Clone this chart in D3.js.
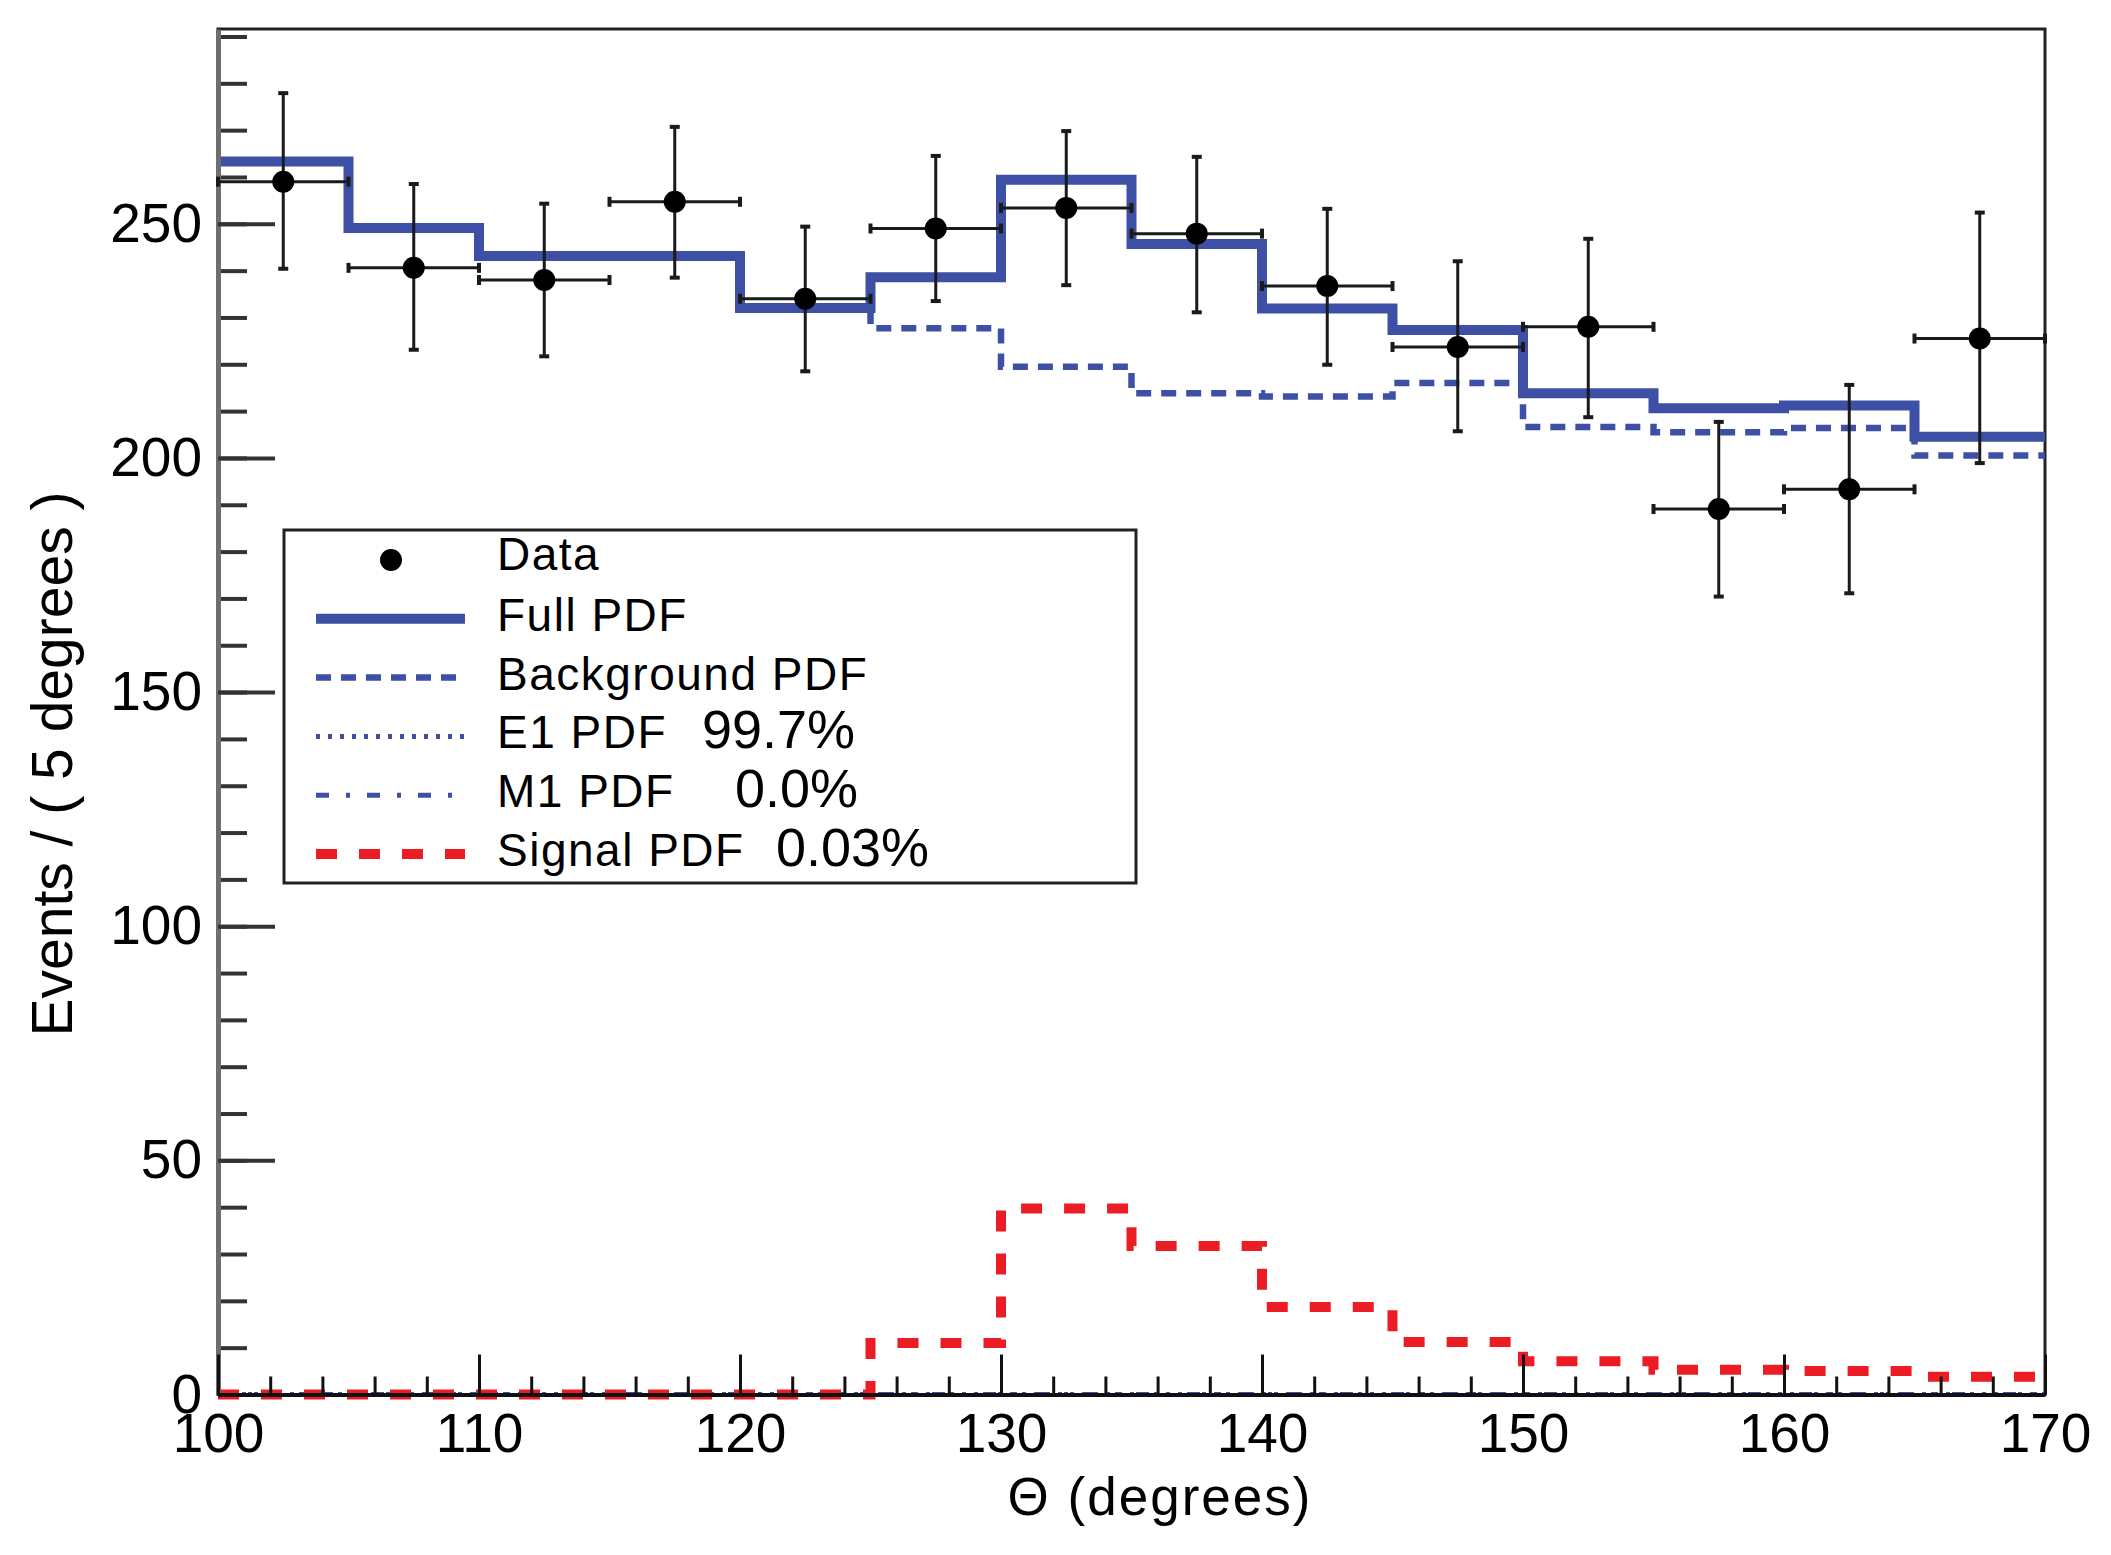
<!DOCTYPE html>
<html>
<head>
<meta charset="utf-8">
<script src="https://cdn.jsdelivr.net/npm/d3@7"></script>
<style>
  body { margin: 0; background: #fff; }
  text { font-family: "Liberation Sans", Arial, Helvetica, sans-serif; }
</style>
</head>
<body>
<svg id="chart" width="2111" height="1555"></svg>
<script>

// bin edges of the 5 degree histogram
var binEdges = [100, 105, 110, 115, 120, 125, 130, 135, 140, 145, 150, 155, 160, 165, 170]

// data points (bin centres) with asymmetric error bar ends
var dataCounts  = [259.0, 240.6, 238.0, 254.7, 234.0, 249.0, 253.4, 247.9, 236.7, 223.7, 228.0, 189.1, 193.3, 225.5]
var dataErrHigh = [277.9, 258.5, 254.3, 270.7, 249.4, 264.5, 269.8, 264.3, 253.2, 242.0, 246.8, 207.7, 215.6, 252.4]
var dataErrLow  = [240.4, 223.1, 221.7, 238.5, 218.5, 233.5, 236.9, 231.1, 219.9, 205.7, 208.7, 170.4, 171.1, 198.9]

// fitted pdfs, one value per bin
var fullPdf       = [263.3, 249.1, 243.1, 243.1, 232.0, 238.6, 259.4, 245.7, 231.9, 227.3, 213.8, 210.6, 211.2, 204.5]
var backgroundPdf = [263.3, 249.1, 243.1, 243.1, 232.0, 227.7, 219.5, 213.8, 213.1, 216.0, 206.6, 205.5, 206.4, 200.5]
var e1Pdf         = [0, 0, 0, 0, 0, 0, 0, 0, 0, 0, 0, 0, 0, 0]
var m1Pdf         = [0, 0, 0, 0, 0, 0, 0, 0, 0, 0, 0, 0, 0, 0]
var signalPdf     = [0, 0, 0, 0, 0, 11.0, 39.7, 31.7, 18.7, 11.2, 7.1, 5.3, 5.0, 3.8]

var xTickLabels = [100, 110, 120, 130, 140, 150, 160, 170]
var yTickLabels = [0, 50, 100, 150, 200, 250]

var legendLabels   = ['Data', 'Full PDF', 'Background PDF', 'E1 PDF', 'M1 PDF', 'Signal PDF']
var legendPercents = ['', '', '', '99.7%', '0.0%', '0.03%']


var svg = d3.select('#chart')

var x = d3.scaleLinear().domain([100, 170]).range([218, 2045])
var y = d3.scaleLinear().domain([0, 291.6]).range([1394.5, 29])

var blue = '#3d50a6', red = '#ec1c24'

var styles = {
  full:       {stroke: blue, width: 10,  dash: null},
  background: {stroke: blue, width: 6.5, dash: '15,10'},
  e1:         {stroke: blue, width: 5,   dash: '4,8'},
  m1:         {stroke: blue, width: 5,   dash: '13,17,4,17'},
  signal:     {stroke: red,  width: 10,  dash: '21,22'},
}

function stepPoints(vals){
  return binEdges.map((e, i) => [e, vals[Math.min(i, vals.length - 1)]])
}

var stepLine = d3.line()
  .x(d => x(d[0]))
  .y(d => y(d[1]))
  .curve(d3.curveStepAfter)


// frame
svg.append('rect')
  .attr('x', x(100)).attr('y', y.range()[1])
  .attr('width', x(170) - x(100)).attr('height', y.range()[0] - y.range()[1])
  .attr('fill', 'none').attr('stroke', '#222').attr('stroke-width', 3)


// pdf curves
var curves = [
  {vals: backgroundPdf, style: styles.background},
  {vals: e1Pdf, style: styles.e1},
  {vals: m1Pdf, style: styles.m1},
  {vals: signalPdf, style: styles.signal},
  {vals: fullPdf, style: styles.full},
]

svg.append('g').selectAll('path')
  .data(curves).join('path')
  .attr('d', d => stepLine(stepPoints(d.vals)))
  .attr('fill', 'none')
  .attr('stroke', d => d.style.stroke)
  .attr('stroke-width', d => d.style.width)
  .attr('stroke-dasharray', d => d.style.dash)


// axes
function styleAxis(g, color, width){
  g.attr('font-family', null).attr('font-size', null)
  g.selectAll('.tick line').attr('stroke', color).attr('stroke-width', width)
  g.selectAll('.tick text').attr('fill', '#000').style('font-size', '55px')
}

var yMinor = svg.append('g').attr('transform', `translate(${x(100)},0)`)
  .call(d3.axisLeft(y).tickValues(d3.range(0, 291, 10)).tickSize(-29).tickSizeOuter(0).tickFormat(''))
yMinor.select('.domain').remove()
styleAxis(yMinor, '#333', 4)

var yAxis = svg.append('g').attr('transform', `translate(${x(100)},0)`)
  .call(d3.axisLeft(y).tickValues(yTickLabels).tickSize(-57).tickSizeOuter(0).tickPadding(16))
styleAxis(yAxis, '#333', 4)
yAxis.select('.domain').attr('stroke', '#6e6e6e').attr('stroke-width', 5)

var xMinor = svg.append('g').attr('transform', `translate(0,${y(0)})`)
  .call(d3.axisBottom(x).tickValues(d3.range(100, 171, 2)).tickSize(-18).tickSizeOuter(0).tickFormat(''))
xMinor.select('.domain').remove()
styleAxis(xMinor, '#111', 3)

var xAxis = svg.append('g').attr('transform', `translate(0,${y(0)})`)
  .call(d3.axisBottom(x).tickValues(xTickLabels).tickSize(-40).tickSizeOuter(0).tickPadding(18))
styleAxis(xAxis, '#111', 3)
xAxis.select('.domain').attr('stroke', '#111').attr('stroke-width', 4)


// axis titles
svg.append('text')
  .attr('x', 1160).attr('y', 1515)
  .attr('text-anchor', 'middle')
  .style('font-size', '53px').style('letter-spacing', '2px')
  .text('Θ (degrees)')

svg.append('text')
  .attr('transform', 'translate(72,764) rotate(-90)')
  .attr('text-anchor', 'middle')
  .style('font-size', '57px')
  .text('Events / ( 5 degrees )')


// data points with error bars
var points = dataCounts.map((v, i) => ({
  lo: binEdges[i], hi: binEdges[i + 1], mid: (binEdges[i] + binEdges[i + 1]) / 2,
  v, errLo: dataErrLow[i], errHi: dataErrHigh[i]
}))

var pointSel = svg.append('g').selectAll('g')
  .data(points).join('g')
  .attr('stroke', '#1a1a1a')

pointSel.append('line')
  .attr('x1', d => x(d.mid)).attr('x2', d => x(d.mid))
  .attr('y1', d => y(d.errLo)).attr('y2', d => y(d.errHi))
  .attr('stroke-width', 3)
pointSel.append('line')
  .attr('x1', d => x(d.lo)).attr('x2', d => x(d.hi))
  .attr('y1', d => y(d.v)).attr('y2', d => y(d.v))
  .attr('stroke-width', 3)
// caps
pointSel.selectAll('line.capv')
  .data(d => [d.errLo, d.errHi].map(e => ({mx: x(d.mid), my: y(e)})))
  .join('line').attr('class', 'capv')
  .attr('x1', d => d.mx - 5).attr('x2', d => d.mx + 5)
  .attr('y1', d => d.my).attr('y2', d => d.my)
  .attr('stroke-width', 4)
pointSel.selectAll('line.caph')
  .data(d => [d.lo, d.hi].map(e => ({mx: x(e), my: y(d.v)})))
  .join('line').attr('class', 'caph')
  .attr('x1', d => d.mx).attr('x2', d => d.mx)
  .attr('y1', d => d.my - 5).attr('y2', d => d.my + 5)
  .attr('stroke-width', 4)
pointSel.append('circle')
  .attr('cx', d => x(d.mid)).attr('cy', d => y(d.v))
  .attr('r', 11).attr('fill', '#000').attr('stroke', 'none')


// legend
var legend = svg.append('g')
legend.append('rect')
  .attr('x', 284).attr('y', 530).attr('width', 852).attr('height', 353)
  .attr('fill', '#fff').attr('stroke', '#222').attr('stroke-width', 3)

var legendStyles = [null, styles.full, styles.background, styles.e1, styles.m1, styles.signal]
var percentX = [0, 0, 0, 702, 735, 776]

var itemSel = legend.selectAll('g.item')
  .data(legendLabels.map((label, i) => ({label, pct: legendPercents[i], style: legendStyles[i], i})))
  .join('g').attr('class', 'item')
  .attr('transform', d => `translate(0,${560 + d.i * 58.8})`)

itemSel.filter(d => !d.style).append('circle')
  .attr('cx', 391).attr('cy', 0).attr('r', 11).attr('fill', '#000')

itemSel.filter(d => d.style).append('line')
  .attr('x1', 316).attr('x2', 465).attr('y1', 0).attr('y2', 0)
  .attr('stroke', d => d.style.stroke)
  .attr('stroke-width', d => d.style.width)
  .attr('stroke-dasharray', d => d.style.dash)

itemSel.append('text')
  .attr('x', 497).attr('y', d => d.i ? 12 : 10)
  .style('font-size', '46px').style('letter-spacing', '1.5px')
  .text(d => d.label)

itemSel.filter(d => d.pct).append('text')
  .attr('x', d => percentX[d.i]).attr('y', 12)
  .style('font-size', '54px')
  .text(d => d.pct)

</script>
</body>
</html>
